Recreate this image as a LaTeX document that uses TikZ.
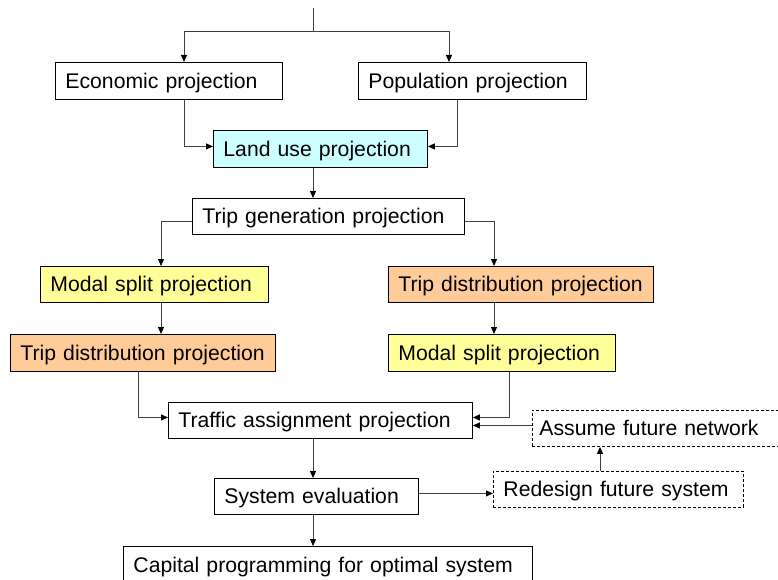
\documentclass[tikz,border=0pt]{standalone}
\usepackage{fontspec}
\setmainfont{Liberation Sans}
\usetikzlibrary{arrows.meta,calc}
\definecolor{cyanfill}{HTML}{CCFFFF}
\definecolor{yellowfill}{HTML}{FFFF99}
\definecolor{orangefill}{HTML}{FFCC99}
\definecolor{connc}{HTML}{404040}
\begin{document}
\begin{tikzpicture}[x=1pt,y=-1pt,
  box/.style={draw=black, line width=0.9pt, anchor=north west, inner xsep=10pt, inner ysep=0pt,
    text height=15pt, text depth=0pt, align=left, font=\fontsize{21.2}{25}\selectfont},
  dbox/.style={box, dash pattern=on 3pt off 2pt},
  link/.style={draw=connc, line width=1pt},
  conn/.style={link, -{Triangle[length=7pt,width=6pt,color=black]}}]
\useasboundingbox (0,0) rectangle (778,580);
\clip (0,0) rectangle (778,580);
\fill[white] (0,0) rectangle (778,580);

\node[box, text width=207pt, minimum height=37pt] (E) at (55,62) {Economic projection};
\node[box, text width=208pt, minimum height=37pt] (P) at (358,62) {Population projection};
\node[box, fill=cyanfill, text width=194pt, minimum height=37pt] (L) at (213,130) {Land use projection};
\node[box, text width=252pt, minimum height=36pt] (TG) at (192,198) {Trip generation projection};
\node[box, fill=yellowfill, text width=208pt, minimum height=36pt] (MS1) at (40,266) {Modal split projection};
\node[box, fill=orangefill, text width=245pt, minimum height=37pt] (TD1) at (10,334) {Trip distribution projection};
\node[box, fill=orangefill, text width=245pt, minimum height=36pt] (TD2) at (388,266) {Trip distribution projection};
\node[box, fill=yellowfill, text width=207pt, minimum height=37pt] (MS2) at (388,334) {Modal split projection};
\node[box, text width=284pt, minimum height=36pt] (TA) at (168,402) {Traffic assignment projection};
\node[dbox, inner xsep=7pt, text width=254pt, minimum height=36pt] (AF) at (532,410) {Assume future network};
\node[box, text width=184pt, minimum height=36pt] (SE) at (214,478) {System evaluation};
\node[dbox, text width=230pt, minimum height=36pt] (RD) at (493,471) {Redesign future system};
\node[box, text width=389pt, minimum height=37pt] (CP) at (123,546) {Capital programming for optimal system};

\coordinate (T0) at (313,8);
\coordinate (T1) at (313,32);
\draw[link] (T0) -- (T1);
\draw[conn] (T1) -| ($(E.north west)+(129,0)$);
\draw[conn] (T1) -| ($(P.north west)+(91,0)$);

\draw[conn] ($(E.south west)+(129,0)$) |- ($(L.west)+(0,-2.5)$);
\draw[conn] ($(P.south west)+(99,0)$) |- ($(L.east)+(0,-2.5)$);
\draw[conn] (L.south -| T0) -- (TG.north -| T0);

\draw[conn] ($(TG.west)+(0,5)$) -| ($(MS1.north west)+(121,0)$);
\draw[conn] ($(MS1.south west)+(121,0)$) -- ($(TD1.north west)+(151,0)$);
\draw[conn] ($(TG.east)+(0,5)$) -| ($(TD2.north west)+(106,0)$);
\draw[conn] ($(TD2.south west)+(106,0)$) -- ($(MS2.north west)+(106,0)$);

\draw[conn] ($(TD1.south west)+(128,0)$) |- ($(TA.west)+(0,-3)$);
\draw[conn] ($(MS2.south west)+(121,0)$) |- ($(TA.east)+(0,-3)$);
\draw[conn] ($(AF.west)+(0,-3)$) coordinate (a1) -- (TA.east |- a1);

\draw[conn] (TA.south -| T0) -- (SE.north -| T0);
\draw[conn] ($(SE.east)+(0,-3)$) coordinate (s1) -- (RD.west |- s1);
\draw[conn] ($(RD.north west)+(107,0)$) -- ($(AF.south west)+(68,0)$);
\draw[conn] (SE.south -| T0) -- (CP.north -| T0);
\end{tikzpicture}
\end{document}
